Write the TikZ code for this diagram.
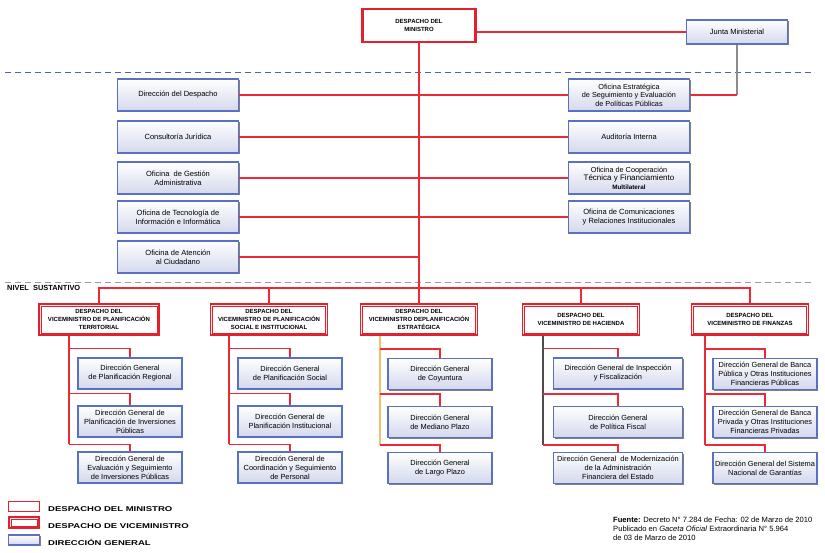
\documentclass[tikz,border=0pt]{standalone}
\usepackage{fontspec}
\usepackage{graphicx}
\setmainfont{Liberation Sans}
\usetikzlibrary{calc,shadows}
\definecolor{bblue}{HTML}{5A70C2}
\definecolor{bfill}{HTML}{D3D8EC}
\definecolor{vred}{HTML}{E2202E}
\definecolor{lred}{HTML}{EC2A36}
\definecolor{dashblue}{HTML}{4E63B5}
\definecolor{dashgray}{HTML}{9A9AA8}
\definecolor{ytrunk}{HTML}{EEC46A}
\tikzset{
  every node/.style={inner sep=1pt},
  staff/.style={draw=bblue, line width=1.3pt, top color=white, bottom color=bfill,
    align=center, font=\fontsize{7.5}{9}\selectfont,
    drop shadow={shadow xshift=1.2pt, shadow yshift=-1.2pt, fill=black!50, opacity=1}},
  dirbox/.style={staff, font=\fontsize{7.4}{9}\selectfont, minimum height=31pt},
  ministro/.style={draw=vred, line width=2.4pt, fill=white, align=center,
    font=\fontsize{6}{7.7}\selectfont\bfseries},
  vice/.style={draw=vred, line width=1.2pt, fill=red!8,
    align=center, font=\fontsize{6}{7.8}\selectfont\bfseries,
    minimum width=117pt, minimum height=31pt},
  viceinner/.style={draw=vred, line width=0.6pt, fill=white},
  vtext/.style={align=center, font=\fontsize{6}{7.8}\selectfont\bfseries},
  conn/.style={draw=lred, line width=1.3pt},
  legtext/.style={anchor=west, font=\fontsize{7}{8}\selectfont\bfseries},
}
\begin{document}
\begin{tikzpicture}[x=1pt,y=-1pt]
\useasboundingbox (0,0) rectangle (825,552);
% separators
\draw[dashblue, line width=1pt, dash pattern=on 6pt off 4pt] (5,72) -- (812,72);
\draw[dashgray, line width=1pt, dash pattern=on 6pt off 4pt] (5,282) -- (812,282);

% top
\node[ministro, minimum width=113pt, minimum height=33pt] (m) at (419,25.5) {DESPACHO DEL\\MINISTRO};
\node[staff, minimum width=101pt, minimum height=24pt] (jm) at (737,32) {Junta Ministerial};

% staff left
\node[staff, minimum width=121pt, minimum height=32pt] (dd) at (178,95) {Dirección del Despacho};
\node[staff, minimum width=121pt, minimum height=32pt] (cj) at (178,137) {Consultoría Jurídica};
\node[staff, minimum width=121pt, minimum height=32pt] (og) at (178,178) {Oficina\ \ de Gestión\\Administrativa};
\node[staff, minimum width=121pt, minimum height=32pt] (ot) at (178,217) {Oficina de Tecnología de\\Información e Informática};
\node[staff, minimum width=121pt, minimum height=32pt] (oa) at (178,257) {Oficina de Atención\\al Ciudadano};
% staff right
\node[staff, minimum width=121pt, minimum height=32pt, font=\fontsize{7.3}{8.4}\selectfont] (oe) at (629,95) {Oficina Estratégica\\de Seguimiento y Evaluación\\de Políticas Públicas};
\node[staff, minimum width=121pt, minimum height=32pt] (ai) at (629,137) {Auditoría Interna};
\node[staff, minimum width=121pt, minimum height=32pt, font=\fontsize{7.3}{8.6}\selectfont] (oc) at (629,178) {Oficina de Cooperación\\{\fontsize{8}{9}\selectfont Técnica y Financiamiento}\\{\fontsize{6.3}{7.5}\selectfont\bfseries Multilateral}};
\node[staff, minimum width=121pt, minimum height=32pt] (ocm) at (629,217) {Oficina de Comunicaciones\\y Relaciones Institucionales};

% vice (outer frames)
\node[vice, minimum width=120pt] (v1) at (99,319.5) {};
\node[vice] (v2) at (269,319.5) {};
\node[vice] (v3) at (419,319.5) {};
\node[vice] (v4) at (581,319.5) {};
\node[vice] (v5) at (750,319.5) {};
\node[vice, minimum width=30pt, minimum height=11pt] (lg2) at (24,522.5) {};
% inner frames
\foreach \v in {v1,v2,v3,v4,v5,lg2}{
  \draw[viceinner] ($(\v.south west)+(2.6,-2.6)$) rectangle ($(\v.north east)+(-2.6,2.6)$);
}
% vice texts
\node[vtext] (vt1) at (v1) {DESPACHO DEL\\VICEMINISTRO DE PLANIFICACIÓN\\TERRITORIAL};
\node[vtext] (vt2) at (v2) {DESPACHO DEL\\VICEMINISTRO DE PLANIFICACIÓN\\SOCIAL E INSTITUCIONAL};
\node[vtext] (vt3) at (v3) {DESPACHO DEL\\VICEMINISTRO DEPLANIFICACIÓN\\ESTRATÉGICA};
\node[vtext] (vt4) at (v4) {DESPACHO DEL\\VICEMINISTRO DE HACIENDA};
\node[vtext] (vt5) at (v5) {DESPACHO DEL\\VICEMINISTRO DE FINANZAS};

% direcciones
\node[dirbox, minimum width=104pt] (d11) at (130,373.5) {Dirección General\\de Planificación Regional};
\node[dirbox, minimum width=104pt] (d12) at (130,421.5) {Dirección General de\\Planificación de Inversiones\\Públicas};
\node[dirbox, minimum width=104pt] (d13) at (130,467.5) {Dirección General de\\Evaluación y Seguimiento\\de Inversiones Públicas};
\node[dirbox, minimum width=104pt] (d21) at (290,373.5) {Dirección General\\de Planificación Social};
\node[dirbox, minimum width=104pt] (d22) at (290,421.5) {Dirección General de\\Planificación Institucional};
\node[dirbox, minimum width=104pt] (d23) at (290,467.5) {Dirección General de\\Coordinación y Seguimiento\\de Personal};
\node[dirbox, minimum width=104pt] (d31) at (440,374) {Dirección General\\de Coyuntura};
\node[dirbox, minimum width=104pt] (d32) at (440,422) {Dirección General\\de Mediano Plazo};
\node[dirbox, minimum width=104pt] (d33) at (440,468) {Dirección General\\de Largo Plazo};
\node[dirbox, minimum width=129pt] (d41) at (618,373.5) {Dirección General de Inspección\\y Fiscalización};
\node[dirbox, minimum width=129pt] (d42) at (618,422) {Dirección General\\de Política Fiscal};
\node[dirbox, minimum width=129pt] (d43) at (618,468) {Dirección General\ \ de Modernización\\de la Administración\\Financiera del Estado};
\node[dirbox, minimum width=104pt] (d51) at (765,374) {Dirección General de Banca\\Pública y Otras Instituciones\\Financieras Públicas};
\node[dirbox, minimum width=104pt] (d52) at (765,422) {Dirección General de Banca\\Privada y Otras Instituciones\\Financieras Privadas};
\node[dirbox, minimum width=104pt] (d53) at (765,468) {Dirección General del Sistema\\Nacional de Garantías};

% connectors top
\draw[conn] (m.east |- jm.west) -- (jm.west);
\draw[conn] (m.south) -- (v3.north);
\draw[conn, draw=black!45] (jm.south) -- (jm.south |- oe.east);
\draw[conn] (jm.south |- oe.east) -- (oe.east);
\draw[conn] (dd.east) -- (oe.west);
\draw[conn] (cj.east) -- (ai.west);
\draw[conn] (og.east) -- (oc.west);
\draw[conn] (ot.east) -- (ocm.west);
\draw[conn] (oa.east) -- (oa.east -| m.south);
% bar
\coordinate (bar) at (0,288);
\draw[conn] (v1.north) -- (v1.north |- bar) -| (v5.north);
\draw[conn] (v2.north) -- (v2.north |- bar);
\draw[conn] (v4.north) -- (v4.north |- bar);

% column trunks and branches
\coordinate (t1) at ($(v1.south west)+(30.5,0)$);
\coordinate (t2) at ($(v2.south west)+(19,0)$);
\coordinate (t3) at ($(v3.south west)+(20,0)$);
\coordinate (t4) at ($(v4.south west)+(21,0)$);
\coordinate (t5) at ($(v5.south west)+(14,0)$);
\foreach \c/\col in {1/lred,2/lred,3/ytrunk,4/black!70,5/lred}{
  \draw[conn, draw=\col] (t\c) -- ($(t\c |- d\c3.north)+(0,-7)$);
  \draw[conn] ($(t\c |- d\c1.north)+(0,-9)$) -| (d\c1.north);
  \draw[conn] ($(t\c |- d\c2.north)+(0,-12)$) -| (d\c2.north);
  \draw[conn] ($(t\c |- d\c3.north)+(0,-7)$) -| (d\c3.north);
}

% labels
\node[anchor=west, font=\fontsize{7.4}{8}\selectfont\bfseries] (ns) at (6,288) {NIVEL\ \ SUSTANTIVO};

% legend
\node[ministro, line width=1.3pt, minimum width=31pt, minimum height=10pt] (lg1) at (24,506.5) {};
\node[staff, line width=1.2pt, minimum width=31pt, minimum height=10pt] (lg3) at (24,540) {};
\node[legtext] (lt1) at (47,509) {\scalebox{1.36}[1]{DESPACHO DEL MINISTRO}};
\node[legtext] (lt2) at (47,526.5) {\scalebox{1.36}[1]{DESPACHO DE VICEMINISTRO}};
\node[legtext] (lt3) at (47,542) {\scalebox{1.36}[1]{DIRECCIÓN GENERAL}};

% source
\node[anchor=west, align=left, font=\fontsize{7.6}{8.8}\selectfont] (src) at (612,528.5)
  {\textbf{Fuente:} Decreto N° 7.284 de Fecha: 02 de Marzo de 2010\\Publicado en \textit{Gaceta Oficial} Extraordinaria N° 5.964\\de 03 de Marzo de 2010};
\end{tikzpicture}
\end{document}
